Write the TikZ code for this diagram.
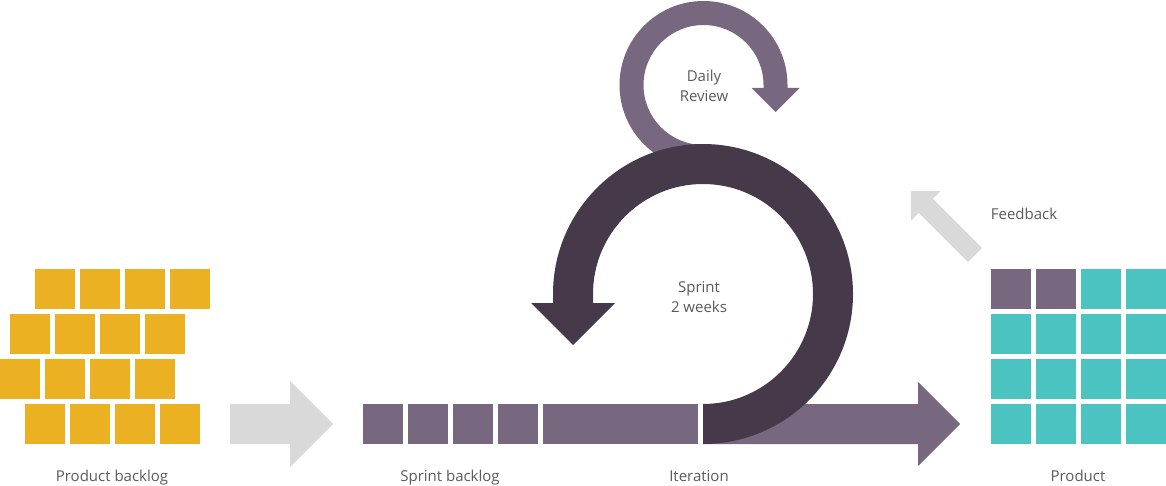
\documentclass[tikz,border=0pt]{standalone}
\usepackage{fontspec}
\setmainfont{Open Sans}
\definecolor{cyellow}{HTML}{ECB122}
\definecolor{cpurple}{HTML}{77677F}
\definecolor{cdark}{HTML}{45394A}
\definecolor{clight}{HTML}{D9D9D9}
\definecolor{cteal}{HTML}{4BC3C0}
\definecolor{ctext}{HTML}{5A5A5A}
\tikzset{
  every picture/.style={font=\fontsize{15}{20}\selectfont},
  tile/.style={fill=#1, minimum size=40pt, inner sep=0pt, anchor=north west},
  tile/.default=cyellow,
  caption/.style={text=ctext, anchor=base, inner sep=0pt},
  looptext/.style={text=ctext, align=center, inner sep=0pt},
}

\begin{document}
\begin{tikzpicture}[x=1pt, y=-1pt]
  \useasboundingbox (0,0) rectangle (1166,486);
  % product backlog
  \foreach \y/\dx [count=\r] in {269/35, 314/10, 359/0, 404/25}
    \foreach \c in {0,...,3}
      \node[tile=cyellow] (pb-\r-\c) at (\dx+45*\c, \y) {};
  \node[caption] (pbl) at (112,481) {Product backlog};
  \fill[clight] (230,404) -- (290,404) -- (290,381) -- (333,424) -- (290,467) -- (290,444) -- (230,444) -- cycle;
  % sprint backlog
  \foreach \c in {0,...,3}
    \node[tile=cpurple] (sb-\c) at (363+45*\c, 404) {};
  \node[tile=cpurple, minimum width=155pt] (sb-4) at (543,404) {};
  \node[caption] (sbl) at (450,481) {Sprint backlog};
  % iteration
  \fill[cpurple] (703,404) -- (918,404) -- (918,382) -- (960,424) -- (918,466) -- (918,444) -- (703,444) -- cycle;
  \node[caption] (itl) at (699,481) {Iteration};
  % daily loop, then the sprint loop over it
  \fill[cpurple] (703.5,169) arc[start angle=90, end angle=360, radius=84] -- ++(0,3) -- ++(12,0) -- ++(-24,24) -- ++(-24,-24) -- ++(12,0) -- ++(0,-3) arc[start angle=360, end angle=90, radius=60] -- cycle;
  \fill[cdark] (703,444) arc[start angle=90, end angle=-180, radius=150] -- ++(0,9) -- ++(-22,0) -- ++(42,42) -- ++(42,-42) -- ++(-22,0) -- ++(0,-9) arc[start angle=-180, end angle=90, radius=110] -- cycle;
  \node[looptext] (dr) at (704,86) {Daily\\Review};
  \node[looptext] (sp) at (699,297) {Sprint\\2 weeks};
  % feedback
  \fill[clight, shift={(975,255)}, rotate=135] (0,-10) -- (69.5,-10) -- (69.5,-21) -- (90.5,0) -- (69.5,21) -- (69.5,10) -- (0,10) -- cycle;
  \node[caption] (fbl) at (1024,220) {Feedback};
  % product
  \foreach \r in {0,...,3}
    \foreach \c in {0,...,3}{
      \ifnum\numexpr\r*4+\c\relax<2 \def\tc{cpurple}\else\def\tc{cteal}\fi
      \node[tile=\tc] (pr-\r-\c) at (991+45*\c, 269+45*\r) {};
    }
  \node[caption] (prl) at (1078,481) {Product};
\end{tikzpicture}
\end{document}
